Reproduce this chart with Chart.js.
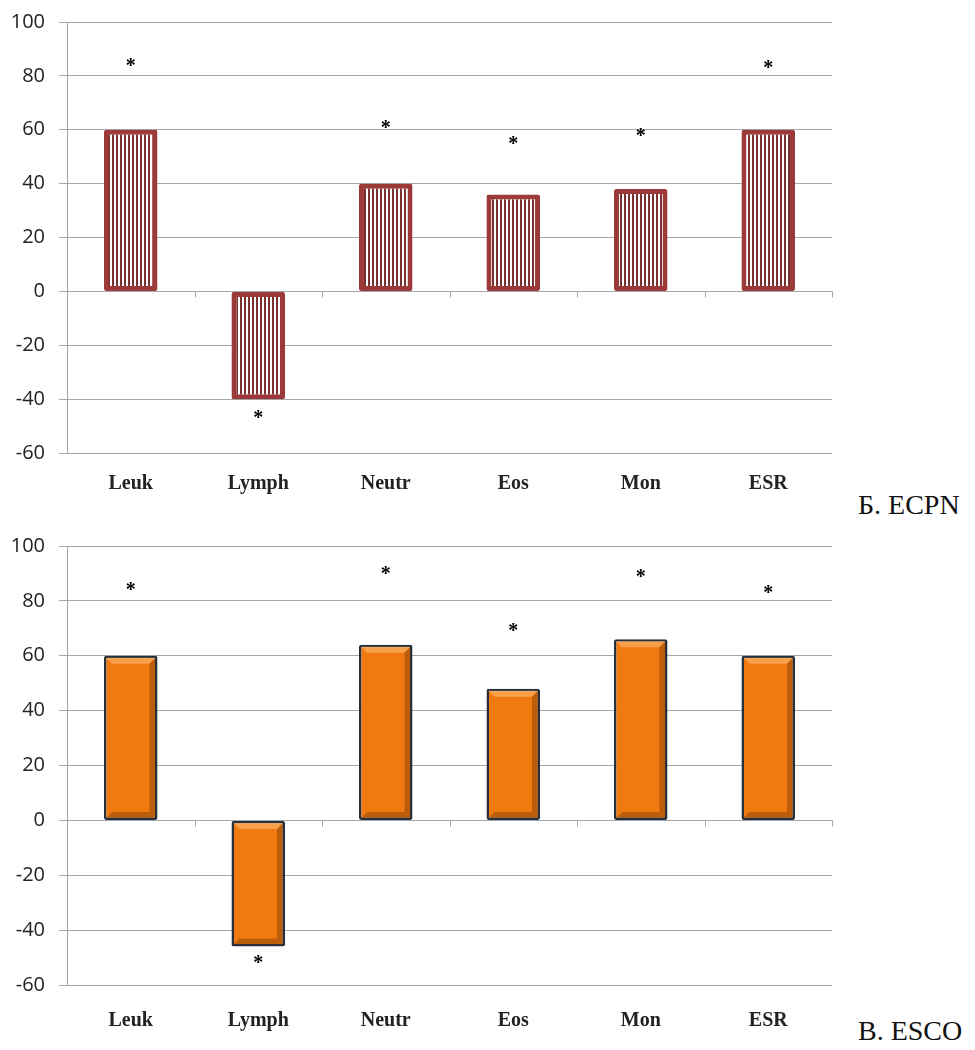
<!DOCTYPE html>
<html>
<head>
<meta charset="utf-8">
<script src="https://cdn.jsdelivr.net/npm/chart.js@4"></script>
<style>
  body { margin: 0; background: #fff; width: 975px; height: 1050px; position: relative; overflow: hidden; }
  .box { position: absolute; left: 0; width: 840px; }
  .tag { position: absolute; left: 858px; font-family: "Liberation Serif", serif; font-size: 28px; color: #111; }
</style>
</head>
<body>
<div class="box" style="top:-4px;height:504px"><canvas id="chartB"></canvas></div>
<div class="box" style="top:520px;height:530px"><canvas id="chartV"></canvas></div>
<div class="tag" style="top:489px">Б. ECPN</div>
<div class="tag" style="top:1015px">В. ESCO</div>
<script>
// categories and values
var categories = ['Leuk', 'Lymph', 'Neutr', 'Eos', 'Mon', 'ESR'];
var ecpnValues = [60, -40, 40, 36, 38, 60];
var ecpnStars = [85, -46, 62, 56, 59, 84];
var escoValues = [60, -46, 64, 48, 66, 60];
var escoStars = [85, -51, 91, 70, 90, 84];
var yTicks = [-60, -40, -20, 0, 20, 40, 60, 80, 100];

var gridColor = '#a6a6a6';

// vertical stripes for the top chart
function stripes() {
    var c = document.createElement('canvas');
    c.width = 4; c.height = 4;
    var g = c.getContext('2d');
    g.fillStyle = '#ffffff';
    g.fillRect(0, 0, 4, 4);
    g.fillStyle = '#7a3230';
    g.fillRect(0, 0, 2, 4);
    return g.createPattern(c, 'repeat');
}

// asterisks and the little tick marks on the zero line
var extras = {
    id: 'extras',
    afterDatasetsDraw: function(chart) {
        var ctx = chart.ctx;
        var xs = chart.scales.x, ys = chart.scales.y;
        var stars = chart.options.plugins.extras.stars;
        var y0 = ys.getPixelForValue(0);
        ctx.save();
        ctx.strokeStyle = gridColor;
        ctx.lineWidth = 1;
        for (var i = 1; i <= categories.length; i++) {
            var bx = i < categories.length
                ? (xs.getPixelForValue(i - 1) + xs.getPixelForValue(i)) / 2
                : xs.right;
            ctx.beginPath();
            ctx.moveTo(Math.round(bx) + 0.5, y0);
            ctx.lineTo(Math.round(bx) + 0.5, y0 + 6);
            ctx.stroke();
        }
        ctx.fillStyle = '#000';
        ctx.font = 'bold 20px "Liberation Serif"';
        ctx.textAlign = 'center';
        ctx.textBaseline = 'middle';
        stars.forEach(function(v, i) {
            ctx.fillText('*', xs.getPixelForValue(i), ys.getPixelForValue(v) + 4);
        });
        ctx.restore();
    }
};

// simple bevel for the orange bars
var bevel = {
    id: 'bevel',
    afterDatasetDraw: function(chart, args) {
        if (!chart.options.plugins.bevel.on) return;
        var ctx = chart.ctx;
        args.meta.data.forEach(function(bar) {
            var l = bar.x - bar.width / 2 + 2, r = bar.x + bar.width / 2 - 2;
            var t = Math.min(bar.y, bar.base) + 2, b = Math.max(bar.y, bar.base) - 2;
            var d = 6;
            ctx.save();
            ctx.fillStyle = 'rgba(255,190,120,0.55)';
            ctx.beginPath();
            ctx.moveTo(l, t); ctx.lineTo(r, t); ctx.lineTo(r - d, t + d); ctx.lineTo(l + d, t + d);
            ctx.closePath(); ctx.fill();
            ctx.fillStyle = 'rgba(90,40,0,0.35)';
            ctx.beginPath();
            ctx.moveTo(r, t); ctx.lineTo(r, b); ctx.lineTo(r - d, b - d); ctx.lineTo(r - d, t + d);
            ctx.closePath(); ctx.fill();
            ctx.beginPath();
            ctx.moveTo(l, b); ctx.lineTo(r, b); ctx.lineTo(r - d, b - d); ctx.lineTo(l + d, b - d);
            ctx.closePath(); ctx.fill();
            ctx.restore();
        });
    }
};

function makeChart(id, values, stars, fill, border, bw, topPad, xHeight, labelPad, useBevel) {
    var ctx = document.getElementById(id).getContext('2d');
    return new Chart(ctx, {
        type: 'bar',
        data: {
            labels: categories,
            datasets: [{
                data: values,
                backgroundColor: fill,
                borderColor: border,
                borderWidth: bw,
                borderSkipped: false,
                borderRadius: 2,
                categoryPercentage: 1,
                barPercentage: 0.42
            }]
        },
        options: {
            responsive: true,
            maintainAspectRatio: false,
            animation: false,
            layout: { padding: { top: topPad, right: 8, left: 0, bottom: 0 } },
            plugins: {
                legend: { display: false },
                tooltip: { enabled: false },
                extras: { stars: stars },
                bevel: { on: useBevel }
            },
            scales: {
                x: {
                    grid: { display: false },
                    border: { display: false },
                    ticks: {
                        padding: labelPad,
                        color: '#222',
                        font: { family: 'Liberation Serif', size: 20, weight: 'bold' }
                    },
                    afterFit: function(s) { s.height = xHeight; }
                },
                y: {
                    min: -60,
                    max: 100,
                    afterBuildTicks: function(s) { s.ticks = yTicks.map(function(v) { return { value: v }; }); },
                    grid: { color: gridColor, lineWidth: 1, tickLength: 8 },
                    border: { color: gridColor, width: 1 },
                    ticks: {
                        padding: 14,
                        color: '#222',
                        font: { family: 'Open Sans', size: 20 }
                    },
                    afterFit: function(s) { s.width = 67; }
                }
            }
        },
        plugins: [bevel, extras]
    });
}

makeChart('chartB', ecpnValues, ecpnStars, stripes(), '#9b3a38', 5, 26, 47, 11, false);
makeChart('chartV', escoValues, escoStars, '#f07a10', '#26303d', 2.5, 26, 65, 16, true);
</script>
</body>
</html>
